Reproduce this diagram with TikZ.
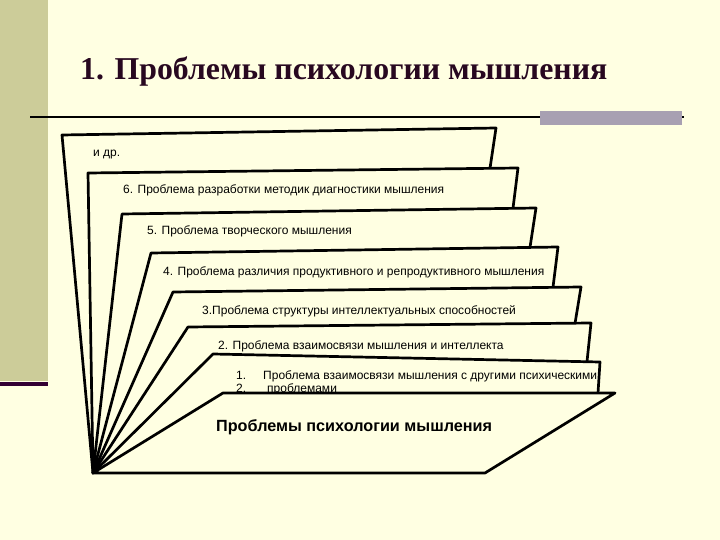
\documentclass[tikz,border=0pt]{standalone}
\usepackage{fontspec}
\setmainfont{Liberation Serif}
\newfontfamily\arialf{Liberation Sans}
\definecolor{cream}{RGB}{255,255,226}
\definecolor{khaki}{RGB}{204,204,153}
\definecolor{darkpurple}{RGB}{51,0,51}
\definecolor{graybar}{RGB}{168,160,178}
\definecolor{titlecol}{RGB}{40,8,32}
\begin{document}
\begin{tikzpicture}[x=1pt,y=-1pt,
  edge/.style={draw=black, line width=2.7pt, line join=round, line cap=round},
  sheetfill/.style={fill=cream},
  lbl/.style={font=\arialf\fontsize{12}{14}\selectfont, anchor=base west, inner sep=0pt, text=black},
  biglbl/.style={font=\arialf\bfseries\fontsize{16.2}{19}\selectfont, anchor=base west, inner sep=0pt, text=black}]
\useasboundingbox (0,0) rectangle (720,540);
\fill[cream] (0,0) rectangle (720,540);
% left bar
\fill[khaki] (0,0) rectangle (47.5,381);
\fill[darkpurple] (0,381.5) rectangle (47.5,385.5);
% title
\node[anchor=base west, inner sep=0pt, font=\bfseries\fontsize{31.8}{36}\selectfont, text=titlecol] (title) at (80,79.5) {1. Проблемы психологии мышления};
% rule
\coordinate (r1) at (30,117.5);
\coordinate (r2) at (684,117.5);
\draw[line width=2pt] (r1) -- (r2);
\fill[graybar] (540,111) rectangle (682,125.5);
% fan coordinates
\coordinate (A) at (93,473);
\coordinate (t1) at (62,135);  \coordinate (u1) at (496,128); \coordinate (b1) at (490,168.3);
\coordinate (t2) at (88,173);  \coordinate (u2) at (518,168); \coordinate (b2) at (513,208.3);
\coordinate (t3) at (122,214); \coordinate (u3) at (536,208); \coordinate (b3) at (530,247.4);
\coordinate (t4) at (151,253); \coordinate (u4) at (558,247); \coordinate (b4) at (553,287.3);
\coordinate (t5) at (173,292); \coordinate (u5) at (581,287); \coordinate (b5) at (575,323.5);
\coordinate (t6) at (188,327); \coordinate (u6) at (591,323); \coordinate (b6) at (587,361.7);
\coordinate (t7) at (213,354); \coordinate (u7) at (600,362); \coordinate (b7) at (598,393);
\coordinate (t8) at (223,393); \coordinate (u8) at (615,393); \coordinate (b8) at (485,473);
% sheet 1
\fill[sheetfill] (A) -- (t1) -- (u1) -- (b1) -- (t2) -- cycle;
\draw[edge] (A) -- (t1) -- (u1) -- (b1);
\node[lbl] (s1) at (93,157) {и др.};
% sheet 2
\fill[sheetfill] (A) -- (t2) -- (u2) -- (b2) -- (t3) -- cycle;
\draw[edge] (A) -- (t2) -- (u2) -- (b2);
\node[lbl] (s2) at (123,194) {6. Проблема разработки методик диагностики мышления};
% sheet 3
\fill[sheetfill] (A) -- (t3) -- (u3) -- (b3) -- (t4) -- cycle;
\draw[edge] (A) -- (t3) -- (u3) -- (b3);
\node[lbl] (s3) at (147,234) {5. Проблема творческого мышления};
% sheet 4
\fill[sheetfill] (A) -- (t4) -- (u4) -- (b4) -- (t5) -- cycle;
\draw[edge] (A) -- (t4) -- (u4) -- (b4);
\node[lbl] (s4) at (163,275) {4. Проблема различия продуктивного и репродуктивного мышления};
% sheet 5
\fill[sheetfill] (A) -- (t5) -- (u5) -- (b5) -- (t6) -- cycle;
\draw[edge] (A) -- (t5) -- (u5) -- (b5);
\node[lbl] (s5) at (202,314) {3.Проблема структуры интеллектуальных способностей};
% sheet 6
\fill[sheetfill] (A) -- (t6) -- (u6) -- (b6) -- (t7) -- cycle;
\draw[edge] (A) -- (t6) -- (u6) -- (b6);
\node[lbl] (s6) at (218,349) {2. Проблема взаимосвязи мышления и интеллекта};
% sheet 7
\fill[sheetfill] (A) -- (t7) -- (u7) -- (b7) -- (t8) -- cycle;
\draw[edge] (A) -- (t7) -- (u7) -- (b7);
\node[lbl] (n1) at (236,379) {1.};
\node[lbl] (s7a) at (263,379) {Проблема взаимосвязи мышления с другими психическими};
\node[lbl] (n2) at (236,392) {2.};
\node[lbl] (s7b) at (267,392) {проблемами};
% front sheet
\filldraw[edge, fill=cream] (A) -- (t8) -- (u8) -- (b8) -- cycle;
\node[biglbl] (front) at (216,431) {Проблемы психологии мышления};
\end{tikzpicture}
\end{document}
